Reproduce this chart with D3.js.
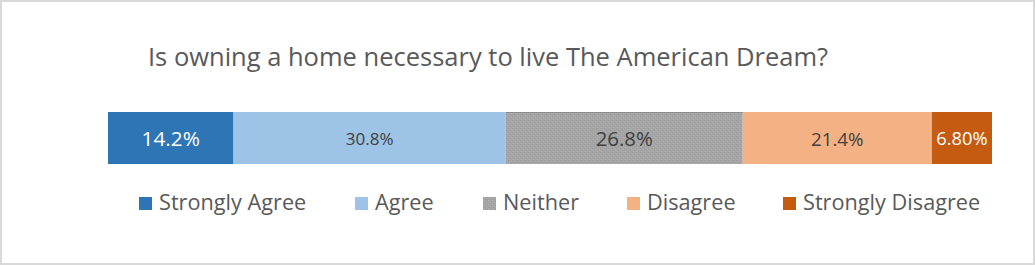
<!DOCTYPE html>
<html>
<head>
<meta charset="utf-8">
<script src="https://cdn.jsdelivr.net/npm/d3@7"></script>
<style>
  body { margin: 0; background: #fff; }
  svg { display: block; font-family: "Open Sans", "Noto Sans", sans-serif; }
</style>
</head>
<body>
<script>
// data
var categories = ["Strongly Agree", "Agree", "Neither", "Disagree", "Strongly Disagree"];
var values = [14.2, 30.8, 26.8, 21.4, 6.8];
var valueLabels = ["14.2%", "30.8%", "26.8%", "21.4%", "6.80%"];
var colors = ["#2e75b6", "#9dc3e6", "#a5a5a5", "#f4b183", "#c55a11"];
var labelColors = ["#ffffff", "#404040", "#404040", "#404040", "#ffffff"];
var labelSizes = [20.8, 17, 20.4, 18.7, 18.3];

var w = 1035;
var h = 265;

var svg = d3.select('body')
            .append('svg')
            .attr('width', w)
            .attr('height', h);

// noisy gray fill for "Neither"
var defs = svg.append('defs');
var pat = defs.append('pattern')
              .attr('id', 'grain')
              .attr('width', 4)
              .attr('height', 4)
              .attr('patternUnits', 'userSpaceOnUse');
pat.append('rect').attr('width', 4).attr('height', 4).attr('fill', '#a5a5a5');
pat.append('rect').attr('x', 0).attr('y', 0).attr('width', 1).attr('height', 1).attr('fill', '#9a9a9a');
pat.append('rect').attr('x', 2).attr('y', 2).attr('width', 1).attr('height', 1).attr('fill', '#9a9a9a');
pat.append('rect').attr('x', 1).attr('y', 3).attr('width', 1).attr('height', 1).attr('fill', '#afafaf');
pat.append('rect').attr('x', 3).attr('y', 1).attr('width', 1).attr('height', 1).attr('fill', '#afafaf');

// chart frame
svg.append('rect')
   .attr('x', 1)
   .attr('y', 1)
   .attr('width', w - 2)
   .attr('height', h - 2)
   .attr('fill', '#fff')
   .attr('stroke', '#d9d9d9')
   .attr('stroke-width', 2);

// title
svg.append('text')
   .attr('x', 148)
   .attr('y', 66)
   .attr('fill', '#595959')
   .style('font-size', '25.5px')
   .text('Is owning a home necessary to live The American Dream?');

// stacked bar
var starts = [];
var acc = 0;
values.forEach(function (v) { starts.push(acc); acc += v; });

var x = d3.scaleLinear()
          .domain([0, d3.sum(values)])
          .range([108, 992]);

var barY = 112;
var barH = 52;

var segs = svg.selectAll('g.seg')
              .data(categories)
              .enter()
              .append('g')
              .attr('class', 'seg');

segs.append('rect')
    .attr('x', function (d, i) { return x(starts[i]); })
    .attr('y', barY)
    .attr('width', function (d, i) { return x(starts[i] + values[i]) - x(starts[i]); })
    .attr('height', barH)
    .attr('fill', function (d, i) { return i === 2 ? 'url(#grain)' : colors[i]; });

// darker top edge on the textured segment
svg.append('line')
   .attr('x1', x(starts[2]))
   .attr('x2', x(starts[2] + values[2]))
   .attr('y1', barY + 0.5)
   .attr('y2', barY + 0.5)
   .attr('stroke', '#8c8c8c');

segs.append('text')
    .attr('x', function (d, i) { return (x(starts[i]) + x(starts[i] + values[i])) / 2; })
    .attr('y', barY + barH / 2 + 1)
    .attr('dy', '0.35em')
    .attr('text-anchor', 'middle')
    .attr('fill', function (d, i) { return labelColors[i]; })
    .style('font-size', function (d, i) { return labelSizes[i] + 'px'; })
    .text(function (d, i) { return valueLabels[i]; });

// legend
var legendX = [139, 355, 483, 627, 783];

var leg = svg.selectAll('g.leg')
             .data(categories)
             .enter()
             .append('g')
             .attr('class', 'leg')
             .attr('transform', function (d, i) { return 'translate(' + legendX[i] + ',197)'; });

leg.append('rect')
   .attr('width', 13)
   .attr('height', 13)
   .attr('fill', function (d, i) { return i === 2 ? 'url(#grain)' : colors[i]; });

leg.append('text')
   .attr('x', 20)
   .attr('y', 13)
   .attr('fill', '#595959')
   .style('font-size', '21.7px')
   .text(function (d) { return d; });
</script>
</body>
</html>
